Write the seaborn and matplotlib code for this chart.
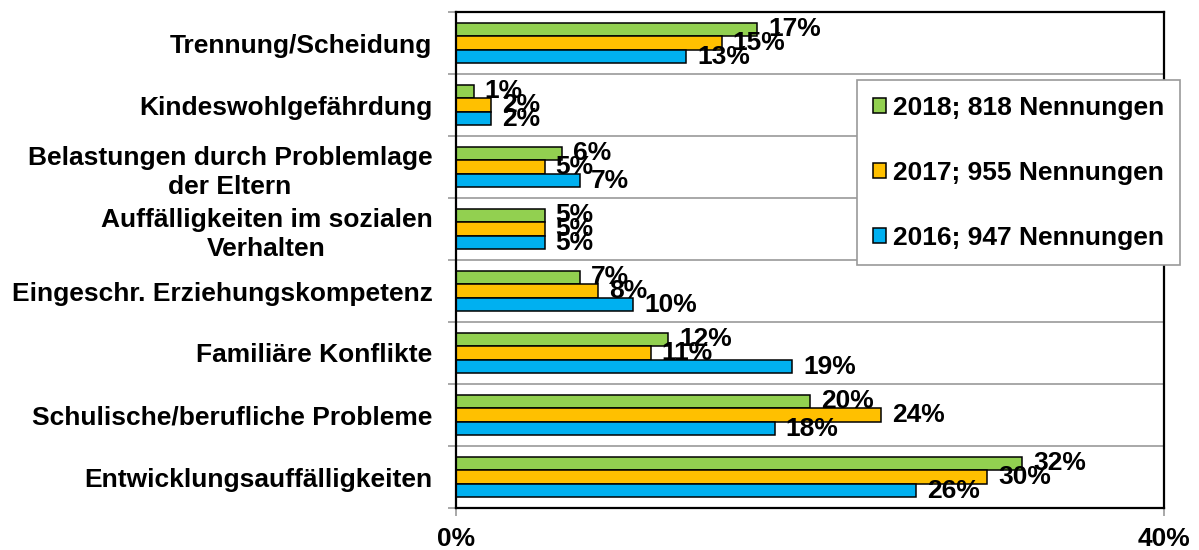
import matplotlib.pyplot as plt
import pandas as pd
import seaborn as sns
from matplotlib.ticker import FixedLocator

# Data
categories = ['Trennung/Scheidung', 'Kindeswohlgefährdung',
              'Belastungen durch Problemlage\nder Eltern',
              'Auffälligkeiten im sozialen\nVerhalten',
              'Eingeschr. Erziehungskompetenz', 'Familiäre Konflikte',
              'Schulische/berufliche Probleme', 'Entwicklungsauffälligkeiten']
series = ['2018; 818 Nennungen', '2017; 955 Nennungen', '2016; 947 Nennungen']
values_2018 = [17, 1, 6, 5, 7, 12, 20, 32]
values_2017 = [15, 2, 5, 5, 8, 11, 24, 30]
values_2016 = [13, 2, 7, 5, 10, 19, 18, 26]
colors = ['#92D050', '#FFC000', '#00B0F0']
x_ticks = [0, 40]
x_tick_labels = ['0%', '40%']

df = pd.DataFrame({
    'Kategorie': categories * 3,
    'Jahr': [s for s in series for _ in categories],
    'Anteil': values_2018 + values_2017 + values_2016,
})

sns.set_style('white')
plt.rcParams['font.family'] = ['Liberation Sans', 'DejaVu Sans']
plt.rcParams['font.weight'] = 'bold'
plt.rcParams['text.color'] = 'black'
plt.rcParams['xtick.labelcolor'] = 'black'
plt.rcParams['ytick.labelcolor'] = 'black'

fig, ax = plt.subplots(figsize=(11.99, 5.5), dpi=100)
fig.subplots_adjust(left=456 / 1199, right=1164 / 1199, top=1 - 12 / 550, bottom=1 - 508 / 550)

sns.barplot(data=df, y='Kategorie', x='Anteil', hue='Jahr', hue_order=series,
            order=categories, palette=colors, width=0.66, saturation=1,
            edgecolor='black', linewidth=1.1, orient='h', ax=ax)

# Value labels
for cont, vals in zip(ax.containers, [values_2018, values_2017, values_2016]):
    ax.bar_label(cont, labels=[f'{v}%' for v in vals], padding=8,
                 fontsize=19, fontweight='bold', color='black')

# Axes
ax.set_xlim(0, 40)
ax.set_ylim(7.5, -0.5)
ax.set_xticks(x_ticks, x_tick_labels)
ax.set_xlabel('')
ax.set_ylabel('')
ax.yaxis.set_minor_locator(FixedLocator([i + 0.5 for i in range(-1, len(categories))]))
ax.set_axisbelow(True)
ax.grid(which='minor', axis='y', color='#999999', lw=1.2)
ax.tick_params(axis='y', which='major', length=0, pad=17, labelsize=19)
ax.tick_params(axis='y', which='minor', length=6, color='#999999', width=1.2, left=True)
ax.tick_params(axis='x', length=6, color='#999999', width=1.2, pad=8, labelsize=19, bottom=True)
for t in ax.get_yticklabels() + ax.get_xticklabels():
    t.set_fontweight('bold')
for t in ax.get_yticklabels():
    t.set_multialignment('center')
    t.set_linespacing(1.3)
for s in ax.spines.values():
    s.set_color('black')
    s.set_linewidth(1.6)

# Legend
handles, labels = ax.get_legend_handles_labels()
leg = ax.legend(handles, labels, loc='upper left', bbox_to_anchor=(857 / 1199, 1 - 80 / 550),
                bbox_transform=fig.transFigure, frameon=True, fancybox=False,
                edgecolor='#999999', framealpha=1, prop={'size': 19, 'weight': 'bold'},
                handlelength=0.5, handleheight=0.5, handletextpad=0.27,
                labelspacing=1.55, borderpad=0.6, borderaxespad=0)
leg.get_frame().set_linewidth(1.2)

fig.savefig('out.png', dpi=100)
